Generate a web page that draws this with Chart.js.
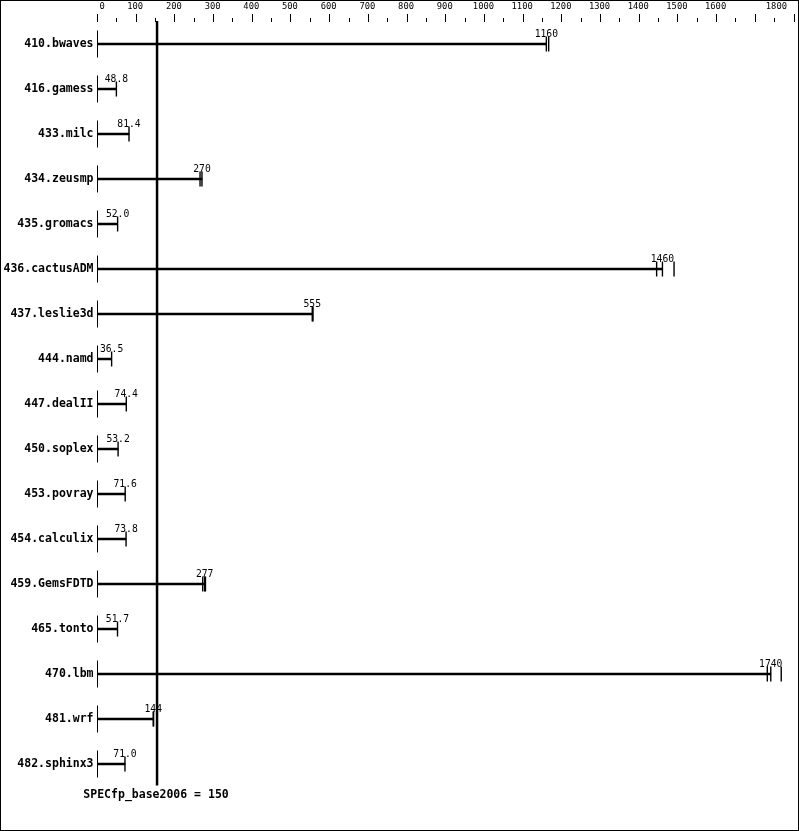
<!DOCTYPE html>
<html>
<head>
<meta charset="utf-8">
<script src="https://cdn.jsdelivr.net/npm/chart.js@4/dist/chart.umd.min.js"></script>
<style>
  html, body { margin: 0; padding: 0; background: #ffffff; overflow: hidden; }
  #wrap { width: 799px; height: 831px; position: relative; }
</style>
</head>
<body>
<div id="wrap"><canvas id="c" width="799" height="831"></canvas></div>
<script>
// ---- data ----
const benchmarks = [
  '410.bwaves', '416.gamess', '433.milc', '434.zeusmp', '435.gromacs',
  '436.cactusADM', '437.leslie3d', '444.namd', '447.dealII', '450.soplex',
  '453.povray', '454.calculix', '459.GemsFDTD', '465.tonto', '470.lbm',
  '481.wrf', '482.sphinx3'
];
const scores = [1160, 48.8, 81.4, 270, 52.0, 1460, 555, 36.5, 74.4, 53.2, 71.6, 73.8, 277, 51.7, 1740, 144, 71.0];
const scoreLabels = ['1160', '48.8', '81.4', '270', '52.0', '1460', '555', '36.5', '74.4', '53.2', '71.6', '73.8', '277', '51.7', '1740', '144', '71.0'];
// individual run results (end ticks)
const runs = [
  [1160, 1166],
  [48.8],
  [81.4],
  [265, 270],
  [52.0],
  [1445, 1460, 1490],
  [555, 557],
  [36.5],
  [74.4],
  [53.2],
  [71.6],
  [73.8],
  [272, 277, 279],
  [51.7],
  [1731, 1740, 1767],
  [144, 145],
  [71.0]
];
const referenceScore = 150;
const referenceLabel = 'SPECfp_base2006 = 150';
const axisMin = 0;
const axisMax = 1800;
const minorStep = 50;
const axisTickValues = [0, 100, 200, 300, 400, 500, 600, 700, 800, 900, 1000, 1100, 1200, 1300, 1400, 1500, 1600, 1800];
const axisTickLabels = ['0', '100', '200', '300', '400', '500', '600', '700', '800', '900', '1000', '1100', '1200', '1300', '1400', '1500', '1600', '1800'];

// ---- derived datasets ----
const runPoints = [];
runs.forEach((arr, i) => arr.forEach(v => runPoints.push({ x: v, y: benchmarks[i] })));
const startPoints = benchmarks.map(b => ({ x: 0, y: b }));

const MONO = '"DejaVu Sans Mono", "Liberation Mono", monospace';

const decorPlugin = {
  id: 'decor',
  afterDatasetsDraw(chart) {
    const ctx = chart.ctx;
    const xs = chart.scales.x;
    const ys = chart.scales.y;
    const area = chart.chartArea;
    ctx.save();
    // top axis ticks
    ctx.strokeStyle = '#000';
    ctx.lineWidth = 1;
    for (let v = axisMin; v <= axisMax; v += minorStep) {
      const px = Math.floor(xs.getPixelForValue(v)) + 0.5;
      const major = v % 100 === 0;
      ctx.beginPath();
      ctx.moveTo(px, major ? 14 : 18);
      ctx.lineTo(px, 22);
      ctx.stroke();
    }
    // top axis labels
    ctx.fillStyle = '#000';
    ctx.font = '8.8px ' + MONO;
    ctx.textBaseline = 'middle';
    axisTickValues.forEach((v, i) => {
      const px = xs.getPixelForValue(v);
      if (i === 0) {
        ctx.textAlign = 'left';
        ctx.fillText(axisTickLabels[i], px + 2, 7);
      } else if (i === axisTickValues.length - 1) {
        ctx.textAlign = 'right';
        ctx.fillText(axisTickLabels[i], px - 7, 7);
      } else {
        ctx.textAlign = 'center';
        ctx.fillText(axisTickLabels[i], px - 1, 7);
      }
    });
    // value labels
    ctx.font = '9.7px ' + MONO;
    ctx.textAlign = 'center';
    ctx.textBaseline = 'alphabetic';
    scores.forEach((s, i) => {
      const px = xs.getPixelForValue(s);
      const py = ys.getPixelForValue(i);
      ctx.fillText(scoreLabels[i], px, py - 7.5);
    });
    // reference line
    const rx = xs.getPixelForValue(referenceScore) + 1.5;
    ctx.lineWidth = 2.5;
    ctx.beginPath();
    ctx.moveTo(rx, 21);
    ctx.lineTo(rx, area.bottom - 1);
    ctx.stroke();
    // reference label
    ctx.font = 'bold 11.5px ' + MONO;
    ctx.textAlign = 'center';
    ctx.textBaseline = 'middle';
    ctx.fillText(referenceLabel, rx - 1, 795);
    // frame
    ctx.lineWidth = 1;
    ctx.strokeRect(0.5, 0.5, chart.width - 1, chart.height - 1);
    ctx.restore();
  }
};

new Chart(document.getElementById('c'), {
  type: 'bar',
  data: {
    labels: benchmarks,
    datasets: [
      {
        label: 'score',
        data: scores,
        backgroundColor: '#000',
        borderWidth: 0,
        barThickness: 2,
        xAxisID: 'x',
        yAxisID: 'y'
      },
      {
        type: 'scatter',
        label: 'runs',
        data: runPoints,
        pointStyle: 'line',
        rotation: 90,
        radius: 7.5,
        borderColor: '#000',
        borderWidth: 1.4,
        showLine: false,
        clip: false,
        xAxisID: 'x',
        yAxisID: 'y'
      },
      {
        type: 'scatter',
        label: 'start',
        data: startPoints,
        pointStyle: 'line',
        rotation: 90,
        radius: 13.5,
        borderColor: '#000',
        borderWidth: 1,
        showLine: false,
        clip: false,
        xAxisID: 'x',
        yAxisID: 'y'
      }
    ]
  },
  options: {
    indexAxis: 'y',
    responsive: false,
    animation: false,
    events: [],
    layout: { autoPadding: false, padding: { top: 21.5, bottom: 44.5, left: 0, right: 5 } },
    plugins: {
      legend: { display: false },
      tooltip: { enabled: false },
      title: { display: false }
    },
    scales: {
      x: {
        type: 'linear',
        display: false,
        min: axisMin,
        max: axisMax
      },
      y: {
        type: 'category',
        display: true,
        position: 'left',
        offset: true,
        grid: { display: false, drawTicks: false },
        border: { display: false },
        ticks: {
          color: '#000',
          padding: 4,
          font: { family: MONO, size: 11.5, weight: 'bold' }
        },
        afterFit(scale) { scale.width = 97.5; }
      }
    }
  },
  plugins: [decorPlugin]
});
</script>
</body>
</html>
